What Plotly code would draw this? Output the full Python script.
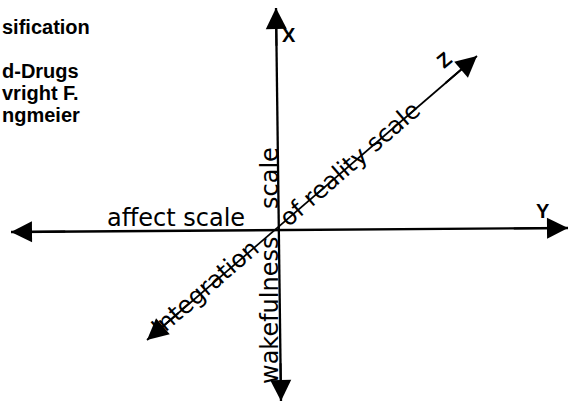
import plotly.graph_objects as go

W, H = 570, 404

# ---- diagram data (pixel-space coordinates of the three axes; y grows downward) ----
axis_letters = ["X", "Y", "Z"]
vertical_axis_x = [276, 281]
vertical_axis_y = [8, 401]
horizontal_axis_x = [11, 568]
horizontal_axis_y = [232, 228]
diagonal_axis_x = [147, 477]
diagonal_axis_y = [340, 56]

scale_labels = ["affect scale", "scale", "wakefulness", "Integration", "of reality scale"]
scale_label_x = [176, 270, 270, 205, 350]
scale_label_y = [218, 178, 311, 288, 164]
scale_label_angle = [0, -90, -90, -40.7, -40.7]

letter_x = [289, 543, 444]
letter_y = [35, 211, 60]
letter_angle = [0, 0, -40]

header_lines = ["sification", "", "d-Drugs", "vright F.", "ngmeier"]
header_y = [27, 48, 71, 93, 115]

fig = go.Figure()

for xs, ys, w in [(vertical_axis_x, vertical_axis_y, 2.3),
                  (horizontal_axis_x, horizontal_axis_y, 2.3),
                  (diagonal_axis_x, diagonal_axis_y, 1.7)]:
    fig.add_trace(go.Scatter(x=xs, y=ys, mode="lines",
                             line=dict(color="black", width=w),
                             hoverinfo="skip", showlegend=False))

annotations = []
# arrowheads at both ends of each axis
for xs, ys in [(vertical_axis_x, vertical_axis_y),
               (horizontal_axis_x, horizontal_axis_y),
               (diagonal_axis_x, diagonal_axis_y)]:
    for tip, tail in [(0, 1), (1, 0)]:
        tx, ty = xs[tip], ys[tip]
        bx = tx + (xs[tail] - tx) * 0.1
        by = ty + (ys[tail] - ty) * 0.1
        annotations.append(dict(x=tx, y=ty, ax=bx, ay=by, xref="x", yref="y",
                                axref="x", ayref="y", text="", showarrow=True,
                                arrowhead=2, arrowsize=2.1, arrowwidth=2,
                                arrowcolor="black"))

for t, x, y, a in zip(scale_labels, scale_label_x, scale_label_y, scale_label_angle):
    annotations.append(dict(x=x, y=y, xref="x", yref="y", text=t, showarrow=False,
                            textangle=a, xanchor="center", yanchor="middle",
                            font=dict(family="DejaVu Sans", size=24, color="black")))

for t, x, y, a in zip(axis_letters, letter_x, letter_y, letter_angle):
    annotations.append(dict(x=x, y=y, xref="x", yref="y", text="<b>" + t + "</b>",
                            showarrow=False, textangle=a, xanchor="center",
                            yanchor="middle",
                            font=dict(family="Liberation Sans", size=20, color="black")))

for t, y in zip(header_lines, header_y):
    if not t:
        continue
    annotations.append(dict(x=0, y=y, xref="x", yref="y", text="<b>" + t + "</b>",
                            showarrow=False, xanchor="left", yanchor="middle",
                            font=dict(family="Liberation Sans", size=20, color="black")))

fig.update_layout(
    width=W, height=H,
    margin=dict(l=0, r=0, t=0, b=0),
    paper_bgcolor="white", plot_bgcolor="white",
    xaxis=dict(range=[0, W], visible=False, fixedrange=True),
    yaxis=dict(range=[H, 0], visible=False, fixedrange=True),
    annotations=annotations,
    showlegend=False,
)

fig.write_html("out.html", config={"displayModeBar": False},
               post_script="document.body.style.margin='0';document.body.style.overflow='hidden';")
